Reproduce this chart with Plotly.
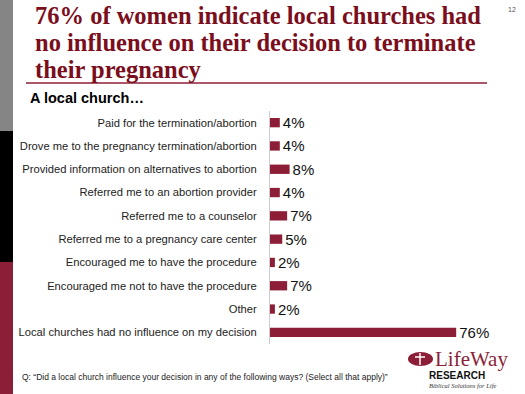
import plotly.graph_objects as go

categories = [
    "Paid for the termination/abortion",
    "Drove me to the pregnancy termination/abortion",
    "Provided information on alternatives to abortion",
    "Referred me to an abortion provider",
    "Referred me to a counselor",
    "Referred me to a pregnancy care center",
    "Encouraged me to have the procedure",
    "Encouraged me not to have the procedure",
    "Other",
    "Local churches had no influence on my decision",
]
values = [4, 4, 8, 4, 7, 5, 2, 7, 2, 76]
value_labels = [f"{v}%" for v in values]

title_lines = [
    "76% of women indicate local churches had",
    "no influence on their decision to terminate",
    "their pregnancy",
]
subtitle = "A local church…"
footnote = "Q: \u201cDid a local church influence your decision in any of the following ways? (Select all that apply)\u201d"

W, H = 525, 394
ML, MR, MT, MB = 270, 10, 111, 50
PW = W - ML - MR
PH = H - MT - MB


def px(x):
    return (x - ML) / PW


def py(y):
    return (H - MB - y) / PH


BAR = "#8C1F37"
TITLE = "#7A0E1C"

fig = go.Figure(
    go.Bar(
        x=values,
        y=categories,
        orientation="h",
        marker=dict(color=BAR, line=dict(width=0)),
        text=value_labels,
        textposition="outside",
        constraintext="none",
        textfont=dict(family="Liberation Sans, Arial", size=15, color="#111"),
        cliponaxis=False,
        width=0.4,
        hoverinfo="skip",
    )
)

fig.update_yaxes(
    autorange="reversed",
    showline=True,
    linecolor="#cccccc",
    linewidth=1,
    ticks="",
    showgrid=False,
    ticklabelstandoff=10,
    tickfont=dict(family="Liberation Sans, Arial", size=11.2, color="#222"),
)
fig.update_xaxes(range=[0, 100], visible=False, showgrid=False, zeroline=False)

shapes = [
    dict(type="rect", xref="paper", yref="paper", x0=px(0), x1=px(13), y0=py(0), y1=py(131),
         fillcolor="#858585", line=dict(width=0), layer="below"),
    dict(type="rect", xref="paper", yref="paper", x0=px(0), x1=px(13), y0=py(131), y1=py(262),
         fillcolor="#000000", line=dict(width=0), layer="below"),
    dict(type="rect", xref="paper", yref="paper", x0=px(0), x1=px(13), y0=py(262), y1=py(394),
         fillcolor="#8C1F37", line=dict(width=0), layer="below"),
    dict(type="line", xref="paper", yref="paper", x0=px(26), x1=px(487), y0=py(83), y1=py(83),
         line=dict(color="#8C1F37", width=1.5)),
    dict(type="circle", xref="paper", yref="paper", x0=px(408), x1=px(433), y0=py(352), y1=py(366),
         fillcolor=BAR, line=dict(width=0)),
    dict(type="line", xref="paper", yref="paper", x0=px(420), x1=px(420), y0=py(353), y1=py(365),
         line=dict(color="white", width=1.5)),
    dict(type="line", xref="paper", yref="paper", x0=px(415), x1=px(425), y0=py(357), y1=py(357),
         line=dict(color="white", width=1.5)),
]

annotations = []
for i, line in enumerate(title_lines):
    annotations.append(dict(
        text="<b>" + line + "</b>", xref="paper", yref="paper", x=px(33), y=py(31 + i * 27),
        xanchor="left", yanchor="bottom", showarrow=False,
        font=dict(family="Liberation Serif, Times New Roman", size=24.5, color=TITLE),
    ))
annotations += [
    dict(text="<b>" + subtitle + "</b>", xref="paper", yref="paper", x=px(28), y=py(108),
         xanchor="left", yanchor="bottom", showarrow=False,
         font=dict(family="Liberation Sans, Arial", size=14.5, color="#000")),
    dict(text=footnote, xref="paper", yref="paper", x=px(20), y=py(377),
         xanchor="left", yanchor="middle", showarrow=False,
         font=dict(family="Liberation Sans, Arial", size=8.5, color="#222")),
    dict(text="12", xref="paper", yref="paper", x=px(512), y=py(9),
         xanchor="center", yanchor="middle", showarrow=False,
         font=dict(family="Liberation Sans, Arial", size=7, color="#555")),
    dict(text="LifeWay", xref="paper", yref="paper", x=px(433), y=py(359),
         xanchor="left", yanchor="middle", showarrow=False,
         font=dict(family="Liberation Serif, Times New Roman", size=21, color=BAR)),
    dict(text="<b>RESEARCH</b>", xref="paper", yref="paper", x=px(457), y=py(375),
         xanchor="center", yanchor="middle", showarrow=False,
         font=dict(family="Liberation Sans, Arial", size=10, color="#111")),
    dict(text="<i>Biblical Solutions for Life</i>", xref="paper", yref="paper", x=px(462), y=py(385),
         xanchor="center", yanchor="middle", showarrow=False,
         font=dict(family="Liberation Serif, Times New Roman", size=6.5, color="#333")),
]

fig.update_layout(
    width=W, height=H,
    margin=dict(l=ML, r=MR, t=MT, b=MB),
    paper_bgcolor="white", plot_bgcolor="white",
    showlegend=False,
    shapes=shapes,
    annotations=annotations,
    bargap=0.6,
    hovermode=False,
)

fig.write_html(
    "out.html",
    config={"displayModeBar": False, "staticPlot": True},
    post_script="document.body.style.margin='0';",
)
